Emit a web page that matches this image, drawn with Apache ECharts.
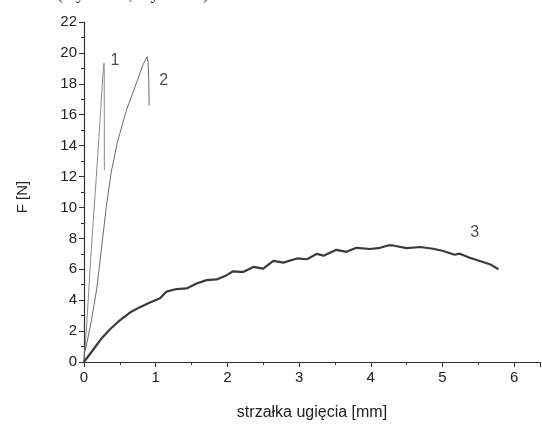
<!DOCTYPE html>
<html>
<head>
<meta charset="utf-8">
<script src="https://cdn.jsdelivr.net/npm/echarts@6/dist/echarts.min.js"></script>
<style>
  html, body { margin: 0; padding: 0; background: #fff; }
  #chart { width: 542px; height: 426px; }
</style>
</head>
<body>
<div id="chart"></div>
<script>
    // krzywa 1
    var curve1X = [0, 0.005, 0.018, 0.056, 0.10, 0.172, 0.219, 0.265, 0.279, 0.282, 0.284];
    var curve1Y = [0, 0.6, 1.0, 3.8, 7.2, 12.0, 15.3, 18.7, 19.35, 19.0, 12.4];
    // krzywa 2
    var curve2X = [0, 0.006, 0.03, 0.10, 0.18, 0.25, 0.31, 0.38, 0.465, 0.585, 0.735, 0.82, 0.88, 0.895, 0.905, 0.908];
    var curve2Y = [0, 0.6, 1.0, 2.6, 4.8, 7.6, 10.0, 12.3, 14.2, 16.2, 18.1, 19.2, 19.75, 19.4, 18.0, 16.6];
    // krzywa 3
    var curve3X = [0, 0.13, 0.25, 0.36, 0.50, 0.64, 0.78, 0.92, 1.06, 1.15, 1.29, 1.43, 1.57, 1.71, 1.85, 1.99,
        2.08, 2.18, 2.22, 2.36, 2.50, 2.64, 2.78, 2.97, 3.11, 3.25, 3.34, 3.52, 3.66, 3.80, 3.99, 4.13,
        4.24, 4.31, 4.50, 4.69, 4.87, 5.01, 5.17, 5.24, 5.38, 5.52, 5.66, 5.78];
    var curve3Y = [0, 0.81, 1.56, 2.1, 2.7, 3.2, 3.55, 3.85, 4.12, 4.55, 4.72, 4.76, 5.08, 5.3, 5.34, 5.62,
        5.87, 5.83, 5.83, 6.15, 6.04, 6.54, 6.43, 6.7, 6.65, 7.0, 6.88, 7.26, 7.13, 7.39, 7.31, 7.39,
        7.54, 7.54, 7.37, 7.44, 7.33, 7.18, 6.94, 7.01, 6.75, 6.54, 6.33, 6.0];
    // opisy krzywych
    var labelX = [0.43, 1.11, 5.45];
    var labelY = [19.5, 18.2, 8.4];
    var labelText = ['1', '2', '3'];
    var xTicks = [0, 1, 2, 3, 4, 5, 6];
    var yTicks = [0, 2, 4, 6, 8, 10, 12, 14, 16, 18, 20, 22];

    function pairs(xs, ys) {
        var out = [];
        for (var i = 0; i < xs.length; i++) out.push([xs[i], ys[i]]);
        return out;
    }

    var chart = echarts.init(document.getElementById('chart'));
    var axisColor = '#333';
    var option = {
        animation: false,
        backgroundColor: '#fff',
        grid: { left: 84, top: 22, right: 2, bottom: 60, containLabel: false },
        xAxis: {
            type: 'value',
            min: xTicks[0],
            max: 6.36,
            interval: 1,
            name: 'strzałka ugięcia [mm]',
            nameLocation: 'middle',
            nameGap: 43,
            nameTextStyle: { fontFamily: 'Liberation Sans', fontSize: 16, color: '#222' },
            axisLine: { show: true, lineStyle: { color: axisColor, width: 1.2 } },
            axisTick: { show: true, inside: false, length: 5, lineStyle: { color: axisColor } },
            minorTick: { show: true, splitNumber: 2, length: 3, lineStyle: { color: axisColor } },
            axisLabel: { fontFamily: 'Liberation Sans', fontSize: 15, color: '#222', margin: 8,
                showMaxLabel: false },
            splitLine: { show: false }
        },
        yAxis: {
            type: 'value',
            min: yTicks[0],
            max: yTicks[yTicks.length - 1],
            interval: 2,
            name: 'F [N]',
            nameLocation: 'middle',
            nameGap: 54,
            nameTextStyle: { fontFamily: 'Liberation Sans', fontSize: 15, color: '#222', padding: [0, 10, 0, 0] },
            axisLine: { show: true, lineStyle: { color: axisColor, width: 1.2 } },
            axisTick: { show: true, inside: false, length: 5, lineStyle: { color: axisColor } },
            minorTick: { show: true, splitNumber: 2, length: 3, lineStyle: { color: axisColor } },
            axisLabel: { fontFamily: 'Liberation Sans', fontSize: 15, color: '#222', margin: 7 },
            splitLine: { show: false }
        },
        graphic: [{
            type: 'text', left: 57, top: -15,
            style: { text: '(wykres 1, wykres 2)', fontFamily: 'Liberation Serif', fontSize: 18, fill: '#333' }
        }],
        series: [
            {
                type: 'line', data: pairs(curve1X, curve1Y), showSymbol: false,
                lineStyle: { color: '#8a8a8a', width: 1 }
            },
            {
                type: 'line', data: pairs(curve2X, curve2Y), showSymbol: false,
                lineStyle: { color: '#6a6a6a', width: 1 }
            },
            {
                type: 'line', data: pairs(curve3X, curve3Y), showSymbol: false,
                lineStyle: { color: '#3a3a3a', width: 2.2 }
            },
            {
                type: 'scatter', symbolSize: 0,
                data: labelX.map(function (x, i) { return { value: [x, labelY[i]], name: labelText[i] }; }),
                label: {
                    show: true, position: 'inside',
                    formatter: function (p) { return p.name; },
                    fontFamily: 'Liberation Sans', fontSize: 16, color: '#222'
                }
            }
        ]
    };
    chart.setOption(option);
</script>
</body>
</html>
